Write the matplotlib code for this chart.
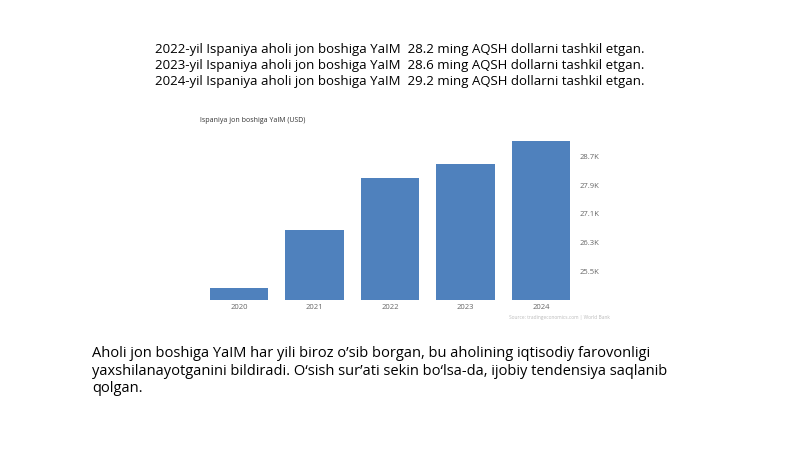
import matplotlib.pyplot as plt

years = ["2020", "2021", "2022", "2023", "2024"]
gdp_k = [25.03, 26.65, 28.1, 28.5, 29.15]
tick_vals = [25.5, 26.3, 27.1, 27.9, 28.7]
tick_labels = ["25.5K", "26.3K", "27.1K", "27.9K", "28.7K"]
header = [
    "2022-yil Ispaniya aholi jon boshiga YaIM  28.2 ming AQSH dollarni tashkil etgan.",
    "2023-yil Ispaniya aholi jon boshiga YaIM  28.6 ming AQSH dollarni tashkil etgan.",
    "2024-yil Ispaniya aholi jon boshiga YaIM  29.2 ming AQSH dollarni tashkil etgan.",
]
body = ("Aholi jon boshiga YaIM har yili biroz o\u2019sib borgan, bu aholining iqtisodiy farovonligi\n"
        "yaxshilanayotganini bildiradi. O\u2018sish sur\u2019ati sekin bo\u2018lsa-da, ijobiy tendensiya saqlanib\n"
        "qolgan.")

W, H = 800, 449
fig = plt.figure(figsize=(8, 4.49), dpi=100)
plt.rcParams['font.family'] = ['Open Sans', 'DejaVu Sans']

for i, line in enumerate(header):
    fig.text(400 / W, 1 - (50 + i * 16) / H, line, ha='center', va='center', fontsize=9.5)

fig.text(92 / W, 1 - 346 / H, body, ha='left', va='top', fontsize=10.5, linespacing=1.25)

fig.text(200 / W, 1 - 121 / H, "Ispaniya jon boshiga YaIM (USD)", fontsize=5, color='#333333', va='center')

ax = fig.add_axes([205 / W, 1 - 300 / H, 370 / W, 170 / H])
ax.bar(range(len(years)), gdp_k, width=0.78, color='#4f81bd', bottom=0)
ax.set_ylim(24.69, 29.45)
ax.set_xlim(-0.45, 4.45)
ax.set_xticks(range(len(years)))
ax.set_xticklabels(years, fontsize=5.5, color='#666666')
ax.yaxis.tick_right()
ax.set_yticks(tick_vals)
ax.set_yticklabels(tick_labels, fontsize=5.5, color='#666666')
ax.tick_params(length=0, pad=3)
for s in ax.spines.values():
    s.set_visible(False)
fig.text(610 / W, 1 - 318 / H, "Source: tradingeconomics.com | World Bank", fontsize=3.5,
         color='#bbbbbb', ha='right', va='center')

fig.savefig("out.png", dpi=100)
